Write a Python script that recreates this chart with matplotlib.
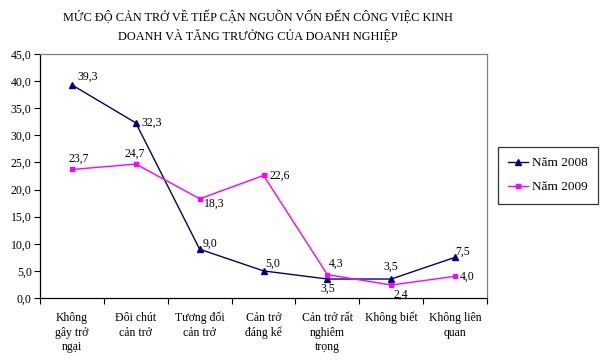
import matplotlib.pyplot as plt
from matplotlib.ticker import FixedLocator, FuncFormatter

plt.rcParams["font.family"] = ["Liberation Serif", "DejaVu Serif"]

categories = [
    "Không\ngây trở\nngại",
    "Đôi chút\ncản trở",
    "Tương đối\ncản trở",
    "Cản trở\nđáng kể",
    "Cản trở rất\nnghiêm\ntrọng",
    "Không biết",
    "Không liên\nquan",
]
values_2008 = [39.3, 32.3, 9.0, 5.0, 3.5, 3.5, 7.5]
values_2009 = [23.7, 24.7, 18.3, 22.6, 4.3, 2.4, 4.0]

# label offsets in pixels (dx, dy, ha, va)
offsets_2008 = [(6, 8, "left", "center"), (6, 0, "left", "center"), (3, 5, "left", "center"),
                (2, 7, "left", "center"), (0, -10, "center", "center"), (0, 12, "center", "center"),
                (0, 6, "left", "center")]
offsets_2009 = [(7, 11, "center", "center"), (-1, 10, "center", "center"), (4, -5, "left", "center"),
                (6, 0, "left", "center"), (1, 11, "left", "center"), (2, -10, "left", "center"),
                (5, 0, "left", "center")]

fig = plt.figure(figsize=(6, 3.6), dpi=100)
ax = fig.add_axes([40 / 600, 1 - 298 / 360, 447 / 600, 244 / 360])

xs = range(len(categories))
ax.plot(xs, values_2008, color="#000080", lw=1, marker="^", ms=4, label="Năm 2008")
ax.plot(xs, values_2009, color="#FF00FF", lw=1, marker="s", ms=3.5, label="Năm 2009")

px = 0.72
for vals, offs in ((values_2008, offsets_2008), (values_2009, offsets_2009)):
    for i, (v, (dx, dy, ha, va)) in enumerate(zip(vals, offs)):
        ax.annotate(f"{v:.1f}".replace(".", ","), (i, v), xytext=(dx * px, dy * px),
                    textcoords="offset points", ha=ha, va=va, fontsize=8.5)

ax.set_xlim(-0.5, len(categories) - 0.5)
ax.set_ylim(0, 45)
ax.yaxis.set_major_locator(FixedLocator([i * 5 for i in range(10)]))
ax.yaxis.set_major_formatter(FuncFormatter(lambda v, p: f"{v:.1f}".replace(".", ",")))
ax.xaxis.set_major_locator(FixedLocator([i - 0.5 for i in range(len(categories) + 1)]))
ax.xaxis.set_major_formatter(FuncFormatter(lambda v, p: ""))
ax.xaxis.set_minor_locator(FixedLocator(list(xs)))
ax.set_xticklabels(categories, minor=True)
ax.tick_params(axis="x", which="minor", length=0, pad=10, labelsize=8.5)
ax.tick_params(axis="x", which="major", length=4, direction="out", width=0.8)
ax.tick_params(axis="y", length=4, direction="out", width=0.8, labelsize=8.5, pad=2)
for lbl in ax.get_xticklabels(minor=True):
    lbl.set_linespacing(1.3)

for side in ("top", "right"):
    ax.spines[side].set_color("#808080")
for side in ("left", "bottom"):
    ax.spines[side].set_color("black")
for s in ax.spines.values():
    s.set_linewidth(0.9)

title_x = 258 / 600
fig.text(title_x, 1 - 17 / 360, "MỨC ĐỘ CẢN TRỞ VỀ TIẾP CẬN NGUỒN VỐN ĐẾN CÔNG VIỆC KINH",
         ha="center", va="center", fontsize=8.8)
fig.text(title_x, 1 - 36 / 360, "DOANH VÀ TĂNG TRƯỞNG CỦA DOANH NGHIỆP",
         ha="center", va="center", fontsize=8.8)

leg = fig.legend(loc="upper left", bbox_to_anchor=(491 / 600, 1 - 140 / 360),
                 frameon=True, fancybox=False, fontsize=9.5, handlelength=1.5,
                 handletextpad=0.3, borderpad=0.8, labelspacing=0.9, edgecolor="black")
leg.get_frame().set_linewidth(0.9)

fig.savefig("out.png", dpi=100)
